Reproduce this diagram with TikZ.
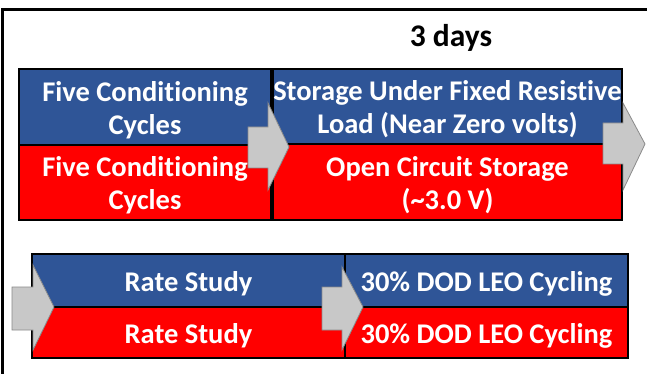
\documentclass[tikz,border=0pt]{standalone}
\usepackage{fontspec}
\setmainfont{Carlito}[Ligatures=NoCommon]
\definecolor{stepblue}{HTML}{2F5597}
\definecolor{stepred}{HTML}{FF0000}
\definecolor{chevfill}{HTML}{C8C8C8}
\definecolor{chevedge}{HTML}{8A8A8A}
\tikzset{
  half/.style={draw=black, line width=1.6pt, inner sep=0pt},
  bluehalf/.style={half, fill=stepblue},
  redhalf/.style={half, fill=stepred},
  steptext/.style={text=white, align=center, inner sep=0pt,
    font=\fontsize{28.5}{33}\selectfont\bfseries},
  chevron/.style={fill=chevfill, draw=chevedge, line width=0.8pt, line join=miter},
  frame/.style={draw=black, line width=3pt}
}
\begin{document}
\begin{tikzpicture}[x=1pt,y=-1pt]
\useasboundingbox (0,0) rectangle (647,374);
\fill[white] (0,0) rectangle (647,374);

% outer frame (only top and left sides fall inside the page)
\draw[frame] (2.5,380) -- (2.5,9.5) -- (650,9.5);

% title
\node[anchor=base, font=\fontsize{31.5}{36}\selectfont\bfseries] (title) at (451,47) {3 days};

% first row
\node[bluehalf, minimum width=252pt, minimum height=76pt] (a1) at (145,107) {};
\node[redhalf,  minimum width=252pt, minimum height=75pt] (a2) at (145,182.5) {};
\node[bluehalf, minimum width=349pt, minimum height=75pt] (b1) at (447.5,106.5) {};
\node[redhalf,  minimum width=349pt, minimum height=76pt] (b2) at (447.5,182) {};
\node[steptext] (a1t) at ([yshift=-3pt]a1.center) {Five Conditioning\\Cycles};
\node[steptext] (a2t) at ([yshift=-3pt]a2.center) {Five Conditioning\\Cycles};
\node[steptext] (b1t) at ([yshift=-3pt]b1.center) {Storage Under Fixed Resistive\\Load (Near Zero volts)};
\node[steptext] (b2t) at ([yshift=-3pt]b2.center) {Open Circuit Storage\\(\textasciitilde 3.0 V)};

% second row
\node[bluehalf, minimum width=313pt, minimum height=53pt] (c1) at (188.5,280.5) {};
\node[redhalf,  minimum width=313pt, minimum height=51pt] (c2) at (188.5,332.5) {};
\node[bluehalf, minimum width=283pt, minimum height=53pt] (d1) at (486.5,280.5) {};
\node[redhalf,  minimum width=283pt, minimum height=51pt] (d2) at (486.5,332.5) {};
\node[steptext] (c1t) at ([yshift=-3pt]c1.center) {Rate Study};
\node[steptext] (c2t) at ([yshift=-3pt]c2.center) {Rate Study};
\node[steptext] (d1t) at ([yshift=-3pt]d1.center) {30\% DOD LEO Cycling};
\node[steptext] (d2t) at ([yshift=-3pt]d2.center) {30\% DOD LEO Cycling};

% flow chevrons
\draw[chevron] (248,127) -- (268,127) -- (268,103) -- (289,147) -- (268,190) -- (268,168) -- (248,168) -- cycle;
\draw[chevron] (603,123) -- (623,123) -- (623,103) -- (645,144) -- (623,190) -- (623,164) -- (603,164) -- cycle;
\draw[chevron] (12,287) -- (33,287) -- (33,265) -- (54,307) -- (33,350) -- (33,330) -- (12,330) -- cycle;
\draw[chevron] (322,287) -- (342,287) -- (342,267) -- (363,307) -- (342,350) -- (342,330) -- (322,330) -- cycle;
\end{tikzpicture}
\end{document}
